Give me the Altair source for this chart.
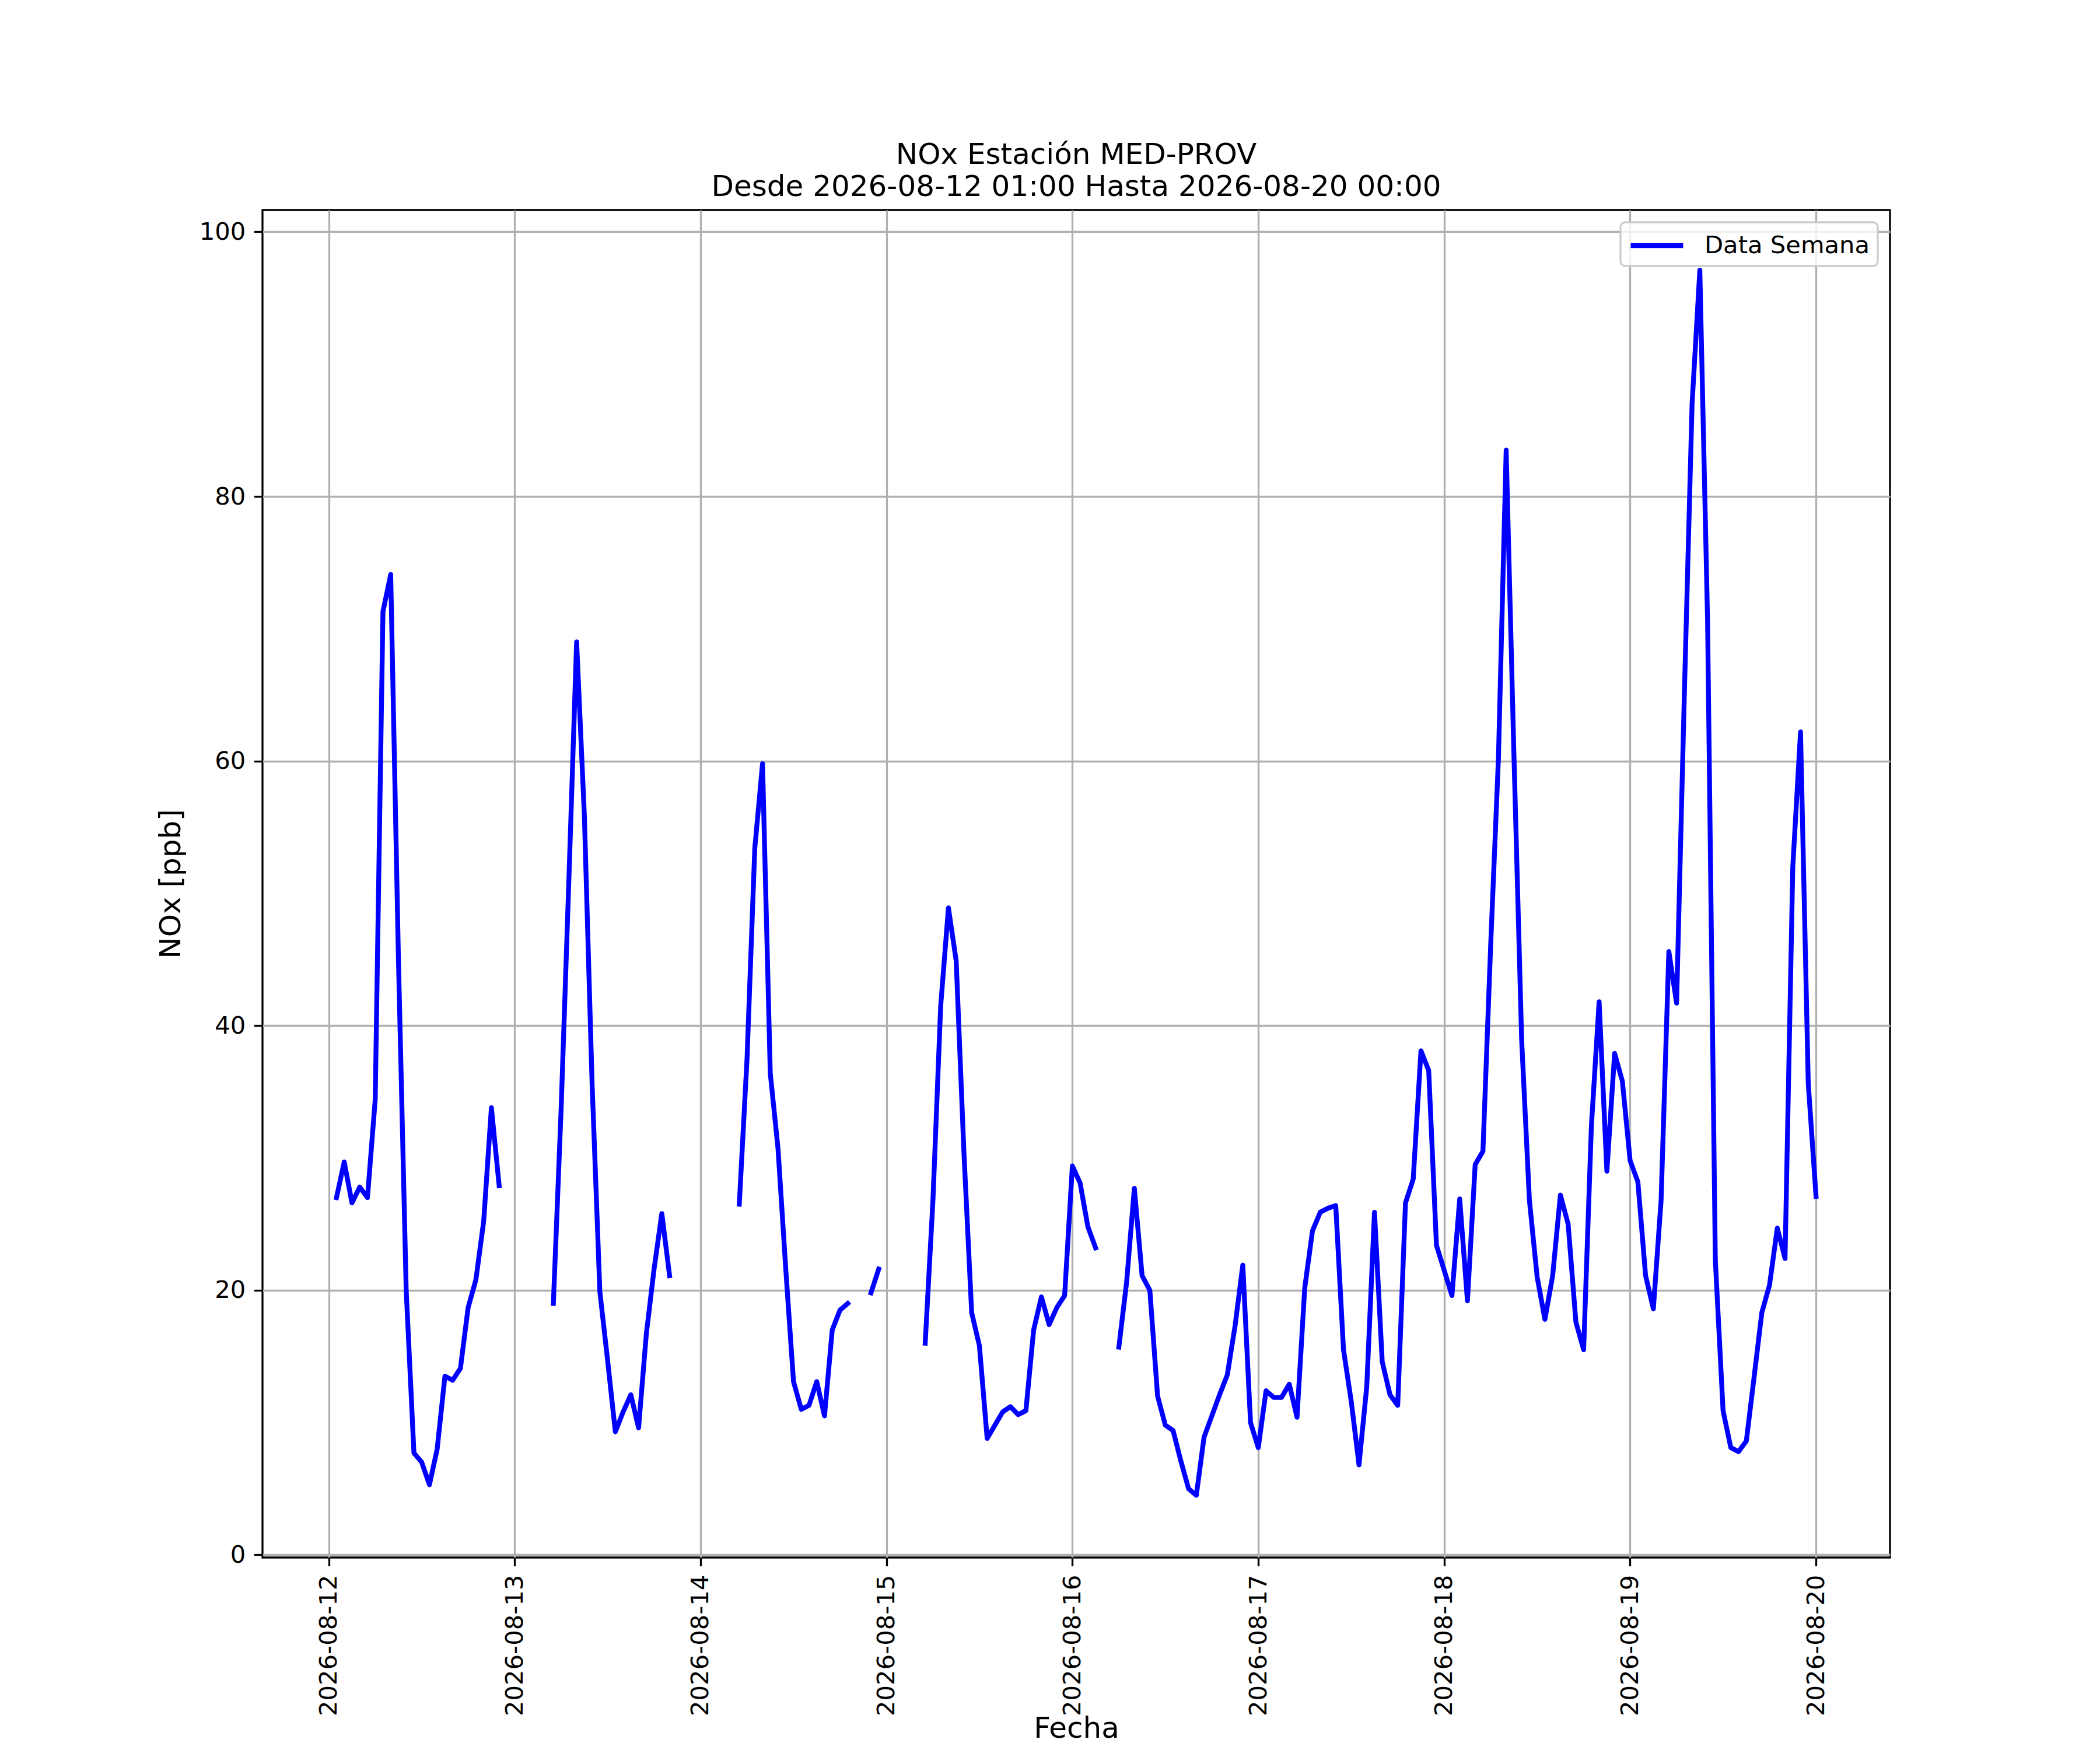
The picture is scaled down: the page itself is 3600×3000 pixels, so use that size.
import altair as alt
import pandas as pd

# Hourly NOx values (ppb); each list covers hours 01:00 .. 24:00 (next day's 00:00) of the given day
dia_12 = [27.0, 29.7, 26.6, 27.8, 27.0, 34.4, 71.3, 74.1, 45.0, 20.0, 7.7, 7.0,
          5.3, 8.0, 13.5, 13.2, 14.1, 18.7, 20.8, 25.2, 33.8, 27.9, None, None]
dia_13 = [None, None, None, None, 19.0, 33.7, 51.0, 69.0, 55.9, 35.6, 19.9, 14.7,
          9.3, 10.8, 12.1, 9.6, 16.7, 21.6, 25.8, 21.1, None, None, None, None]
dia_14 = [None, None, None, None, 26.5, 37.5, 53.4, 59.8, 36.4, 30.7, 21.6, 13.1,
          11.0, 11.3, 13.1, 10.5, 17.0, 18.5, 19.0, None, None, 19.8, 21.6, None]
dia_15 = [None, None, None, None, 16.0, 26.8, 41.5, 48.9, 44.9, 30.4, 18.3, 15.8,
          8.8, 9.8, 10.8, 11.2, 10.6, 10.9, 17.0, 19.5, 17.4, 18.7, 19.6, 29.4]
dia_16 = [28.1, 24.8, 23.2, None, None, 15.7, 20.6, 27.7, 21.1, 20.0, 12.0, 9.8,
          9.4, 7.1, 5.0, 4.5, 8.9, 10.5, 12.1, 13.6, 17.3, 21.9, 10.0, 8.1]
dia_17 = [12.4, 11.9, 11.9, 12.9, 10.4, 20.2, 24.5, 25.9, 26.2, 26.4, 15.5, 11.6,
          6.8, 12.7, 25.9, 14.6, 12.1, 11.3, 26.6, 28.4, 38.1, 36.6, 23.4, 21.5]
dia_18 = [19.6, 26.9, 19.2, 29.5, 30.5, 46.1, 60.2, 83.5, 60.5, 38.9, 26.8, 21.0,
          17.8, 21.1, 27.2, 25.0, 17.6, 15.5, 32.4, 41.8, 29.0, 37.9, 35.8, 29.8]
dia_19 = [28.2, 21.1, 18.6, 26.8, 45.6, 41.7, 65.0, 87.0, 97.1, 70.6, 22.3, 10.9,
          8.1, 7.8, 8.6, 13.4, 18.3, 20.4, 24.7, 22.4, 52.0, 62.2, 35.6, 27.1]

valores = dia_12 + dia_13 + dia_14 + dia_15 + dia_16 + dia_17 + dia_18 + dia_19
fechas = pd.date_range("2026-08-12 01:00", periods=len(valores), freq="h")

filas = []
seg = 0
prev_none = True
for f, v in zip(fechas, valores):
    if v is None:
        prev_none = True
        continue
    if prev_none:
        seg += 1
        prev_none = False
    filas.append({"fecha": f.strftime("%Y-%m-%dT%H:%M:%S"), "nox": v,
                  "seg": seg, "serie": "Data Semana"})
df = pd.DataFrame(filas)

FONT = "DejaVu Sans"

chart = alt.Chart(df).mark_line(
    strokeWidth=8.3, strokeCap="square", strokeJoin="round"
).encode(
    x=alt.X(
        "fecha:T",
        title="Fecha",
        scale=alt.Scale(
            domain=[
                alt.DateTime(year=2026, month=8, date=11, hours=15, minutes=27),
                alt.DateTime(year=2026, month=8, date=20, hours=9, minutes=33),
            ],
            nice=False,
        ),
        axis=alt.Axis(
            format="%Y-%m-%d",
            tickCount={"interval": "day", "step": 1},
            labelAngle=270,
            labelLimit=1000,
            titleY=308,
            titleBaseline="alphabetic",
        ),
    ),
    y=alt.Y(
        "nox:Q",
        title="NOx [ppb]",
        scale=alt.Scale(domain=[-0.2, 101.65], nice=False, zero=False),
        axis=alt.Axis(values=[0, 20, 40, 60, 80, 100], titlePadding=23),
    ),
    color=alt.Color(
        "serie:N",
        scale=alt.Scale(domain=["Data Semana"], range=["#0000ff"]),
        legend=alt.Legend(
            title=None,
            orient="top-right",
            offset=21,
            symbolType="M-1,0H3",
            symbolSize=2025,
            symbolStrokeWidth=8.3,
            labelFontSize=41.7,
            labelFont=FONT,
            labelOffset=77,
            labelLimit=1000,
            labelColor="black",
            padding=13,
            cornerRadius=8,
            strokeColor="#cccccc",
            fillColor="rgba(255,255,255,0.8)",
        ),
    ),
    detail="seg:N",
).properties(
    width=2790,
    height=2310,
    autosize=alt.AutoSizeParams(type="none"),
    padding={"left": 442, "top": 352, "right": 352, "bottom": 322},
    title=alt.TitleParams(
        text=["NOx Estación MED-PROV", "Desde 2026-08-12 01:00 Hasta 2026-08-20 00:00"],
        fontSize=50,
        font=FONT,
        fontWeight="normal",
        color="black",
        anchor="middle",
        offset=14,
        lineHeight=55,
    ),
).configure_view(
    stroke="black", strokeWidth=3.3
).configure_axis(
    domain=False,
    grid=True,
    gridColor="#b0b0b0",
    gridWidth=3.3,
    ticks=True,
    tickSize=14.6,
    tickWidth=3.3,
    tickColor="black",
    labelFont=FONT,
    labelFontSize=41.7,
    labelColor="black",
    labelPadding=14.6,
    titleFont=FONT,
    titleFontSize=50,
    titleFontWeight="normal",
    titleColor="black",
).configure_legend(
    strokeWidth=3.3
)

chart.save("out.html", embed_options={"renderer": "svg", "actions": False})
